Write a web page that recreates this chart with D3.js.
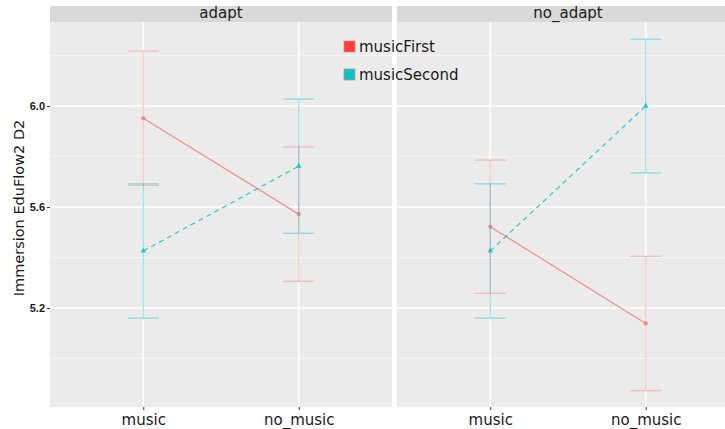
<!DOCTYPE html>
<html>
<head>
<meta charset="utf-8">
<script src="https://cdn.jsdelivr.net/npm/d3@7"></script>
<style>
  body { margin: 0; background: #fff; }
  text { font-family: "DejaVu Sans", sans-serif; }
</style>
</head>
<body>
<script>
// facets, x categories and groups
var facets = ["adapt", "no_adapt"];
var conditions = ["music", "no_music"];
var groups = ["musicFirst", "musicSecond"];

// means per facet / group, in order of conditions
var meanAdaptFirst = [5.952, 5.572];
var meanAdaptSecond = [5.426, 5.762];
var meanNoAdaptFirst = [5.522, 5.139];
var meanNoAdaptSecond = [5.426, 6.000];
// half width of the error bars
var errAdaptFirst = [0.266, 0.266];
var errAdaptSecond = [0.266, 0.266];
var errNoAdaptFirst = [0.264, 0.266];
var errNoAdaptSecond = [0.266, 0.265];

var yTicks = [5.2, 5.6, 6.0];
var yMinor = [5.0, 5.4, 5.8, 6.2];

var colors = { musicFirst: "#F8766D", musicSecond: "#00BFC4" };

var width = 725, height = 429;
// (window.top is read only, so no "top" here)
var panelW = 342, panelGap = 5, plotLeft = 50, plotTop = 22, plotBottom = 407, stripH = 16;

// build rows
var series = [
  { facet: "adapt", group: "musicFirst", mean: meanAdaptFirst, err: errAdaptFirst },
  { facet: "adapt", group: "musicSecond", mean: meanAdaptSecond, err: errAdaptSecond },
  { facet: "no_adapt", group: "musicFirst", mean: meanNoAdaptFirst, err: errNoAdaptFirst },
  { facet: "no_adapt", group: "musicSecond", mean: meanNoAdaptSecond, err: errNoAdaptSecond }
];

var y = d3.scaleLinear().domain([4.808, 6.333]).range([plotBottom, plotTop]);
var x = d3.scalePoint().domain(conditions).range([0, panelW]).padding(0.6);

var svg = d3.select("body").append("svg")
    .attr("width", width)
    .attr("height", height);

facets.forEach(function (f, fi) {
  var px = plotLeft + fi * (panelW + panelGap);
  var g = svg.append("g").attr("transform", "translate(" + px + ",0)");

  // strip + panel background
  g.append("rect").attr("x", 0).attr("y", plotTop - stripH)
    .attr("width", panelW).attr("height", stripH).attr("fill", "#D9D9D9");
  g.append("rect").attr("x", 0).attr("y", plotTop)
    .attr("width", panelW).attr("height", plotBottom - plotTop).attr("fill", "#EBEBEB");
  g.append("text").attr("x", panelW / 2).attr("y", plotTop - 4)
    .attr("text-anchor", "middle").attr("font-size", 15).attr("fill", "#1a1a1a")
    .text(f);

  g.selectAll(".minor").data(yMinor).enter().append("line")
    .attr("x1", 0).attr("x2", panelW)
    .attr("y1", function (d) { return y(d); }).attr("y2", function (d) { return y(d); })
    .attr("stroke", "#F5F5F5").attr("stroke-width", 1);
  g.selectAll(".major").data(yTicks).enter().append("line")
    .attr("x1", 0).attr("x2", panelW)
    .attr("y1", function (d) { return y(d); }).attr("y2", function (d) { return y(d); })
    .attr("stroke", "#fff").attr("stroke-width", 1.5);
  g.selectAll(".vmajor").data(conditions).enter().append("line")
    .attr("x1", function (d) { return x(d); }).attr("x2", function (d) { return x(d); })
    .attr("y1", plotTop).attr("y2", plotBottom)
    .attr("stroke", "#fff").attr("stroke-width", 1.5);

  // x axis
  var xa = g.append("g").attr("transform", "translate(0," + plotBottom + ")")
    .call(d3.axisBottom(x).tickSize(3).tickPadding(4));
  xa.select(".domain").remove();
  xa.selectAll("line").attr("stroke", "#333");
  xa.selectAll("text").attr("font-size", 15).attr("fill", "#1a1a1a")
    .style("font-family", "DejaVu Sans, sans-serif");

  var rows = series.filter(function (s) { return s.facet === f; });
  var halfCap = (x(conditions[1]) - x(conditions[0])) * 0.1;

  rows.forEach(function (s) {
    var col = colors[s.group];
    var pts = conditions.map(function (c, i) {
      return { c: c, m: s.mean[i], lo: s.mean[i] - s.err[i], hi: s.mean[i] + s.err[i] };
    });
    var eb = g.append("g").attr("stroke", col).attr("stroke-opacity", 0.4).attr("stroke-width", 1.3);
    pts.forEach(function (p) {
      eb.append("line").attr("x1", x(p.c)).attr("x2", x(p.c))
        .attr("y1", y(p.lo)).attr("y2", y(p.hi));
      eb.append("line").attr("x1", x(p.c) - halfCap).attr("x2", x(p.c) + halfCap)
        .attr("y1", y(p.lo)).attr("y2", y(p.lo));
      eb.append("line").attr("x1", x(p.c) - halfCap).attr("x2", x(p.c) + halfCap)
        .attr("y1", y(p.hi)).attr("y2", y(p.hi));
    });
    var line = d3.line().x(function (p) { return x(p.c); }).y(function (p) { return y(p.m); });
    g.append("path").datum(pts).attr("d", line)
      .attr("fill", "none").attr("stroke", col).attr("stroke-opacity", 0.8)
      .attr("stroke-width", 1.2)
      .attr("stroke-dasharray", s.group === "musicSecond" ? "5,4" : null);
    var sym = d3.symbol().type(s.group === "musicSecond" ? d3.symbolTriangle : d3.symbolCircle).size(14);
    g.selectAll(null).data(pts).enter().append("path")
      .attr("d", sym)
      .attr("transform", function (p) { return "translate(" + x(p.c) + "," + y(p.m) + ")"; })
      .attr("fill", col).attr("fill-opacity", 0.8);
  });

  if (fi === 0) {
    var ya = g.append("g").call(d3.axisLeft(y).tickValues(yTicks).tickSize(3).tickPadding(2)
      .tickFormat(d3.format(".1f")));
    ya.select(".domain").remove();
    ya.selectAll("line").attr("stroke", "#333");
    ya.selectAll("text").attr("font-size", 11).attr("font-weight", "bold").attr("fill", "#1a1a1a")
      .style("font-family", "Liberation Sans, sans-serif");
  }
});

// y label
svg.append("text")
  .attr("transform", "translate(24,208) rotate(-90)")
  .attr("text-anchor", "middle").attr("font-size", 14.5).attr("fill", "#1a1a1a")
  .text("Immersion EduFlow2 D2");

// legend
var lg = svg.append("g").attr("transform", "translate(344,41)");
groups.forEach(function (gname, i) {
  var row = lg.append("g").attr("transform", "translate(0," + (i * 28) + ")");
  row.append("rect").attr("width", 11).attr("height", 11)
    .attr("fill", gname === "musicFirst" ? "#FF3B3B" : "#00C8C4")
    .attr("stroke", "#d88").attr("stroke-width", 0.8);
  row.append("text").attr("x", 15).attr("y", 11).attr("font-size", 15).attr("fill", "#1a1a1a")
    .text(gname);
});
</script>
</body>
</html>
